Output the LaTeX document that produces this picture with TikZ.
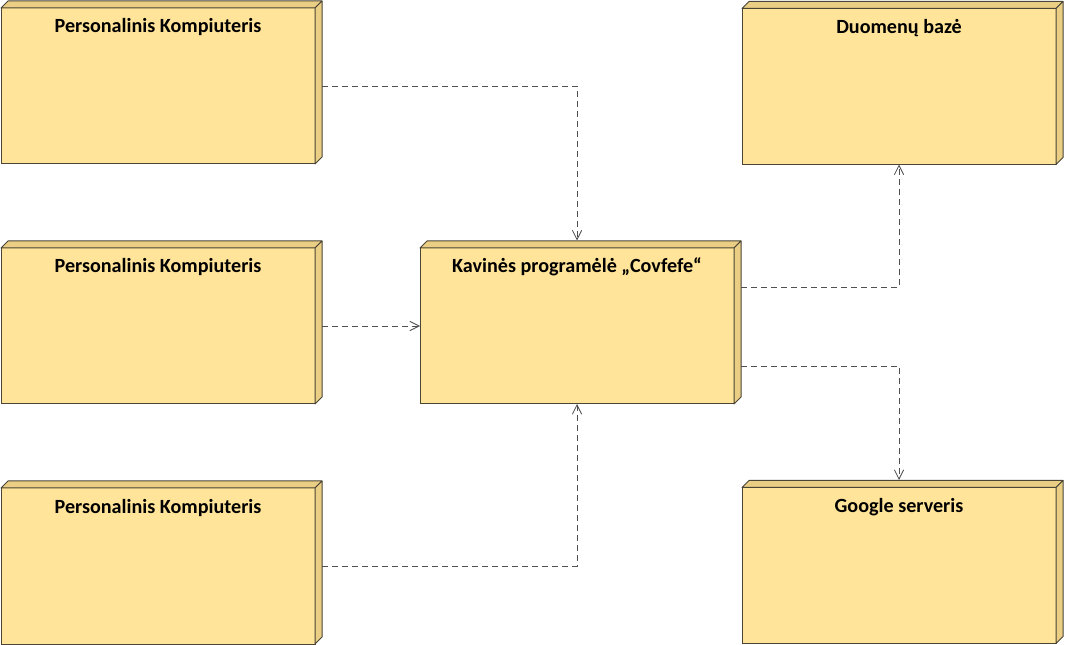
\documentclass[tikz,border=0pt]{standalone}
\usepackage{fontspec}
\setmainfont{Carlito}
\usetikzlibrary{arrows.meta,calc}
\definecolor{nodefront}{HTML}{FFE499}
\definecolor{nodeside}{HTML}{E9CE84}
\definecolor{nodeedge}{HTML}{4A4535}
\definecolor{linkgray}{HTML}{505050}
\tikzset{
  devbox/.style={draw=nodeedge, line width=0.75pt, fill=nodefront, minimum width=314*0.75pt, minimum height=156*0.75pt, inner sep=0pt, outer sep=0pt},
  devlabel/.style={font=\bfseries\fontsize{15.1}{17}\selectfont, anchor=base},
  link/.style={draw=linkgray, line width=0.6pt, dash pattern=on 4.5pt off 3pt, -{Straight Barb[length=7pt,width=7pt,line width=0.6pt]}}
}
\newcommand{\devnode}[4]{% name, center x, center y, label
  \node[devbox] (#1) at (#2,#3) {};
  \fill[nodeside, draw=nodeedge, line width=0.75pt, line join=round]
    (#1.north west) -- ++(7,-7) -- ($(#1.north east)+(7,-7)$) -- (#1.north east) -- cycle;
  \fill[nodeside, draw=nodeedge, line width=0.75pt, line join=round]
    (#1.north east) -- ++(7,-7) -- ($(#1.south east)+(7,-7)$) -- (#1.south east) -- cycle;
  \node[devlabel] at ($(#1.north)+(0,25)$) {#4};
}
\begin{document}
\begin{tikzpicture}[x=0.75pt,y=-0.75pt]
\useasboundingbox (0,0) rectangle (1065,645);
\devnode{pcA}{158}{86}{Personalinis Kompiuteris}
\devnode{pcB}{158}{326}{Personalinis Kompiuteris}
\devnode{pcC}{158}{566}{Personalinis Kompiuteris}
\devnode{app}{577}{326}{Kavinės programėlė „Covfefe“}
\devnode{db}{899}{86.5}{Duomenų bazė}
\devnode{gs}{899}{565.5}{Google serveris}
\coordinate (appTop) at ($(app.north)+(0,-7.5)$);
\coordinate (gsTop) at ($(gs.north)+(0,-7.5)$);
\draw[link] ($(pcA.east)+(7,0)$) -| (appTop);
\draw[link] ($(pcB.east)+(7,0)$) -- (app.west);
\draw[link] ($(pcC.east)+(7,0)$) -| (app.south);
\draw[link] ($(app.east)+(7,-39)$) -| (db.south);
\draw[link] ($(app.east)+(7,40)$) -| (gsTop);
\end{tikzpicture}
\end{document}
